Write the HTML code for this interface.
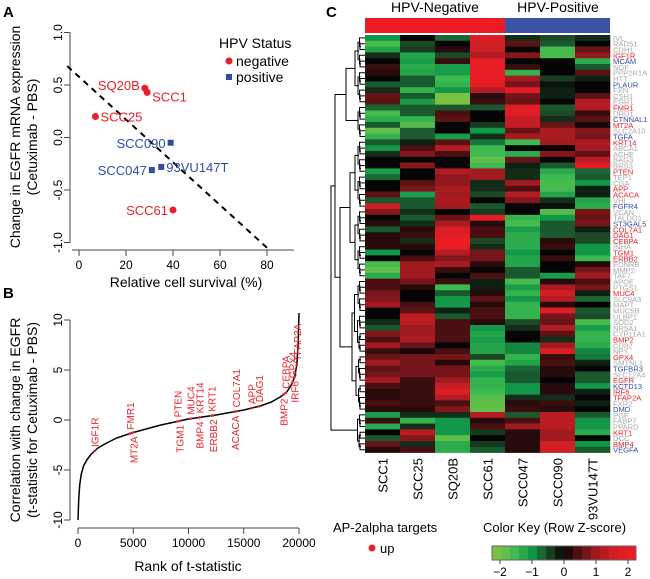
<!DOCTYPE html>
<html><head><meta charset="utf-8"><style>
body{margin:0;background:#fff}
svg{display:block;font-family:"Liberation Sans",sans-serif}
</style></head><body>
<svg id="fig" width="650" height="579" viewBox="0 0 650 579" xmlns="http://www.w3.org/2000/svg">
<g id="pa"></g>
<g id="pb"></g>
<g id="pc"></g>
</svg>
<script>
// ---------- Panel A data ----------
const aNames = ["SQ20B","SCC1","SCC25","SCC090","SCC047","93VU147T","SCC61"];
const aSurvival = [28,29,7,39,31,35,40];
const aChange = [0.47,0.43,0.2,-0.05,-0.31,-0.28,-0.69];
const aHpv = ["neg","neg","neg","pos","pos","pos","neg"];
const aXTicks = [0,20,40,60,80];
const aYTicks = [-1.0,-0.5,0.0,0.5,1.0];
const aFit = [[-5,0.68],[80,-1.05]];
// ---------- Panel B data ----------
const bRanks = [0,60,150,300,500,800,1200,1800,2600,3500,5000,7500,10000,12500,15000,16500,17500,18300,18900,19300,19600,19800,19920,20000];
const bTvals = [-10,-8,-6.5,-5.4,-4.6,-4,-3.4,-2.8,-2.3,-1.8,-1.25,-0.5,0.1,0.5,1.0,1.4,1.8,2.3,2.8,3.5,4.3,5.5,7.5,10.7];
const bGenes = ["IGF1R","FMR1","MT2A","PTEN","TGM1","MUC4","BMP4","KRT14","ERBB2","KRT1","ACACA","COL7A1","APP","DAG1","BMP2","CEBPA","GPX4","IRF6","TFAP2A"];
const bGeneRank = [1500,4700,5000,9000,9200,10200,11000,11000,12200,12100,14200,14300,15700,16400,18600,18800,19400,19600,19800];
const bGeneSide = ["u","u","d","u","d","u","d","u","d","u","d","u","u","u","d","u","u","d","u"];
const bXTicks = [0,5000,10000,15000,20000];
const bYTicks = [-10,-5,0,5,10];
// ---------- Panel C data ----------
const cSamples = ["SCC1","SCC25","SQ20B","SCC61","SCC047","SCC090","93VU147T"];
const cGenes = ["IVL","RAD51","CDH1","IGF1R","MCAM","NGF","PPP2R1A","HTT","PLAUR","FXN","CSH1","EGR1","FMR1","DRD1","CTNNAL1","MT2A","SLC2A10","TGFA","KRT14","ABCA1","ACHE","BAG3","BRS3","PTEN","TEP1","CGA","APP","ACACA","VHL","FGFR4","VCAN","TALDO1","ST3GAL5","COL7A1","DAG1","CEBPA","INHA","TGM1","ERBB2","EDNRB","MMP2","TAF7","APOE","PTGS1","MUC4","SLC9A3","MAPT","MUC5B","ULBP1","SOD2","NR5A1","CYP11A1","BMP2","CD82","NPY","GPX4","SMTNL1","TGFBR3","SLC12A4","EGFR","KCTD13","IRF6","TFAP2A","FXR2","DMD","PGF","FABP7","PPARD","KRT1","DCC","BMP4","VEGFA"];
const cRedGenes = ["IGF1R","FMR1","MT2A","KRT14","PTEN","APP","ACACA","COL7A1","DAG1","CEBPA","TGM1","ERBB2","MUC4","BMP2","GPX4","EGFR","IRF6","TFAP2A","KRT1","BMP4"];
const cBlueGenes = ["MCAM","PLAUR","CTNNAL1","TGFA","FGFR4","ST3GAL5","TGFBR3","KCTD13","DMD","VEGFA"];
const cZ = [
[-1,0,-0.7,1.8,-0.3,-0.5,-0.3],[-1.6,-0.5,0,1.5,0.5,-0.6,0],[-1.2,-0.4,0.2,1.5,0,-1.6,0.6],[-0.3,-1.2,-0.5,1.2,0.8,-1.6,0.9],
[0,-1.1,0.3,1.9,0,0,-1.3],[0.3,-1.3,-1.1,1.9,0.3,0,-0.6],[0.2,-1.2,-1.1,1.9,-1.4,0,0.5],[0,-0.6,-1.5,1.9,1,-0.4,-0.2],
[-0.6,-0.6,-1.4,1.9,0.7,-0.1,0],[-0.3,-1.4,-1,1.2,1.8,-0.2,0],[0.6,-0.6,-2,0.2,0.7,-0.2,0.5],[0.5,-1.1,-2,0.3,0.6,0,1.2],
[-0.7,-0.6,-0.6,-0.6,1.8,-0.6,1.2],[-1.6,-0.6,0.4,0,1.8,-0.5,0.3],[-1.3,-1.4,0.5,0,1.4,-0.3,0.5],[-0.6,-1.7,0,-0.4,1.4,0.6,0.1],
[-1.8,-0.6,0,-1,0.6,1.1,0.8],[-1.4,-0.6,-1.1,-0.3,1.1,1.1,0.7],[-0.6,-0.2,0.5,-0.8,-1.5,1,1.1],[-1,0.4,1.2,-1.5,0,0,1],
[-0.3,0.8,0.4,-1.5,-1.3,0.8,0.5],[0,0,0,-1.8,0.6,0,1.3],[0,0.8,0,-1.5,-0.2,-0.6,1.8],[-1.1,0,1.2,1,-0.3,-1.3,-0.7],
[-0.7,0,0.9,1,-0.3,-1.5,-0.6],[0,0.5,0.9,-0.3,1,-1.6,-1],[0,0.7,1.1,-0.3,0.4,-1.6,-0.2],[0.5,-1.1,1,-0.5,1.2,-1.2,-0.2],
[-0.6,-0.6,1.1,0,0.8,-0.3,-1.2],[1.5,-0.6,1,-0.6,0,-0.1,-1.3],[0.8,-0.3,0,-0.4,0,-1.7,0.7],[0,-0.6,0.6,1.9,-1.4,-1,0.6],
[0.2,-0.3,1.1,0.2,-1.6,-0.6,0.7],[-0.6,0.2,1.7,0.4,-1.1,-0.6,-0.2],[0.2,0.3,1.8,0.4,-1.3,-0.6,-0.5],[0.2,-0.3,2,-0.5,-1.3,0.2,-0.5],
[0.2,0.2,1.9,-0.3,-1.3,0.3,-1],[-1,0,1.2,0.7,-1,0,-1],[0,0.4,0.8,0.7,-1.2,0.3,-1.5],[-1.6,1,1.1,0.2,-1.2,0,0.2],
[-1.8,1,0.3,0,-0.6,0,0.7],[-1.3,1,0,0.4,-0.6,-1.1,1],[0.4,0.7,0.3,-0.2,-1.6,0.2,0.4],[0.4,0.2,-1.5,-0.2,-1.1,1.1,0.7],
[0.7,0,-0.6,0.2,-1.4,1.6,-0.2],[0.8,0,-1,0.5,-1,1.2,-0.7],[1,0.4,-1,0.2,-1.4,0.2,0],[0,0.5,-0.2,0.4,-1.4,1.8,-0.6],
[0,1.3,-0.6,0.4,-1.4,0.7,-0.5],[-0.3,1.3,0.4,0.2,-0.5,0.6,-1.6],[-0.6,1,0.4,-1,-0.3,1.2,-1.1],[0.8,1,0.4,-1.2,0,0.5,-1.4],
[0.4,1.1,0.4,-1.1,0,-0.3,-1.4],[1,0.6,0,-1.2,-0.9,1,-1.3],[0.3,0.1,0.4,-1.2,-0.9,1.7,-0.9],[0.6,0.7,0.7,-0.5,-1.4,0.3,-0.8],
[1,0.7,0.2,-1.6,-1.2,0.4,-0.2],[0.5,0.7,0.7,-1.3,-0.7,0.2,0],[0.7,0.7,0.7,-1.1,-0.6,0.2,-0.6],[1,0.3,1,-1.4,-0.6,0,-0.6],
[0.4,0.3,1.4,-1.4,-1,0.2,-1],[0.2,0.3,1.8,-1.5,-1,0.2,-0.2],[0.2,0.3,1.2,-1.7,-0.3,-0.3,0],[0.4,0.3,0.4,-1.8,0.2,0.3,-0.2],
[0.2,0.2,0.8,-1.8,0.3,0.2,0],[-1.1,-0.3,-0.3,1.2,-0.6,1.3,-0.6],[0.3,-1.4,-1,0.2,0.4,1.3,-1],[-1.3,-0.3,-1,0.4,1,1.3,-1],
[0,1.3,-1,-0.4,0.2,1,-1.3],[-0.6,0.8,-1.8,0,0.2,1,0],[0.6,-0.3,-1.3,-0.4,0.2,1.6,-1],[0.2,0.4,-1.3,-0.6,0.2,1.6,-0.6]
];
const keyTicks = [-2,-1,0,1,2];

const NS="http://www.w3.org/2000/svg";
function mk(parent,tag,attrs,text){const e=document.createElementNS(NS,tag);for(const k in attrs)e.setAttribute(k,attrs[k]);if(text!==undefined)e.textContent=text;parent.appendChild(e);return e;}

// ===== Panel A =====
(function(){
const g=document.getElementById('pa');
const x=v=>79+v*(267-79)/80, y=v=>137.5-v*(105);
let t=mk(g,'text',{x:3,y:17,'font-size':15,'font-weight':'bold'},'A');

let ax=mk(g,'line',{x1:70,y1:y(1),x2:70,y2:y(-1),stroke:'#444','stroke-width':1});

aYTicks.forEach(v=>{mk(g,'line',{x1:64,x2:70,y1:y(v),y2:y(v),stroke:'#444'});
 const tl=mk(g,'text',{x:0,y:0,'font-size':12,'text-anchor':'middle',transform:`translate(62,${y(v)}) rotate(-90)`},v.toFixed(1));
 });
let bx=mk(g,'line',{x1:72,y1:250,x2:294,y2:250,stroke:'#444'});

aXTicks.forEach(v=>{mk(g,'line',{x1:x(v),x2:x(v),y1:250,y2:256,stroke:'#444'});
 const tl=mk(g,'text',{x:x(v),y:269,'font-size':12,'text-anchor':'middle'},String(v));
 });
let xl=mk(g,'text',{x:186,y:287,'font-size':14,'text-anchor':'middle'},'Relative cell survival (%)');

let y1=mk(g,'text',{x:0,y:0,'font-size':14,'text-anchor':'middle',transform:'translate(20,137) rotate(-90)'},'Change in EGFR mRNA expression');

let y2=mk(g,'text',{x:0,y:0,'font-size':14,'text-anchor':'middle',transform:'translate(37,137) rotate(-90)'},'(Cetuximab - PBS)');

let fl=mk(g,'line',{x1:x(aFit[0][0]),y1:y(aFit[0][1]),x2:x(aFit[1][0]),y2:y(aFit[1][1]),stroke:'#000','stroke-width':2,'stroke-dasharray':'6,5'});

const labelPos={"SQ20B":"l","SCC1":"r","SCC25":"r","SCC090":"l","SCC047":"l","93VU147T":"r","SCC61":"l"};
aNames.forEach((n,i)=>{const px=x(aSurvival[i]),py=y(aChange[i]);const col=aHpv[i]==='neg'?'#e8202a':'#2f4ea0';
 let m;
 if(aHpv[i]==='neg')m=mk(g,'circle',{cx:px,cy:py,r:3.5,fill:col});else m=mk(g,'rect',{x:px-3,y:py-3,width:6,height:6,fill:col});
 
 const side=labelPos[n];let dy=5;if(n==='SCC1')dy=9;if(n==='SQ20B')dy=2;
 const tl=mk(g,'text',{x:side==='l'?px-5:px+5,y:py+dy,'font-size':13,fill:col,'text-anchor':side==='l'?'end':'start'},n);
 });
let lt=mk(g,'text',{x:219,y:48,'font-size':14},'HPV Status');
let c=mk(g,'circle',{cx:229,cy:61,r:3.5,fill:'#e8202a'});
let l1=mk(g,'text',{x:236,y:66,'font-size':14},'negative');
let r=mk(g,'rect',{x:226,y:74,width:6,height:6,fill:'#2f4ea0'});
let l2=mk(g,'text',{x:236,y:82,'font-size':14},'positive');
})();

// ===== Panel B =====
(function(){
const g=document.getElementById('pb');
const x=v=>78+v*(299-78)/20000, y=v=>420-v*10;
let t=mk(g,'text',{x:3,y:298,'font-size':15,'font-weight':'bold'},'B');

let ax=mk(g,'line',{x1:70,y1:y(10),x2:70,y2:y(-10),stroke:'#444'});
bYTicks.forEach(v=>{mk(g,'line',{x1:64,x2:70,y1:y(v),y2:y(v),stroke:'#444'});
 const tl=mk(g,'text',{x:0,y:0,'font-size':12,'text-anchor':'middle',transform:`translate(62,${y(v)}) rotate(-90)`},String(v));
 });
let bx=mk(g,'line',{x1:x(0),y1:528,x2:x(20000),y2:528,stroke:'#444'});
bXTicks.forEach(v=>{mk(g,'line',{x1:x(v),x2:x(v),y1:528,y2:534,stroke:'#444'});
 const tl=mk(g,'text',{x:x(v),y:547,'font-size':12,'text-anchor':'middle'},String(v));
 });
let xl=mk(g,'text',{x:188,y:571,'font-size':14,'text-anchor':'middle'},'Rank of t-statistic');
let y1=mk(g,'text',{x:0,y:0,'font-size':14,'text-anchor':'middle',transform:'translate(20,420) rotate(-90)'},'Correlation with change in EGFR');

let y2=mk(g,'text',{x:0,y:0,'font-size':14,'text-anchor':'middle',transform:'translate(37,420) rotate(-90)'},'(t-statistic for Cetuximab - PBS)');

let d='';bRanks.forEach((rk,i)=>{d+=(i?'L':'M')+x(rk).toFixed(1)+','+y(bTvals[i]).toFixed(1);});
let cv=mk(g,'path',{d:d,fill:'none',stroke:'#000','stroke-width':1.5,'stroke-linejoin':'round'});

function tAt(rk){for(let i=1;i<bRanks.length;i++){if(rk<=bRanks[i]){const f=(rk-bRanks[i-1])/(bRanks[i]-bRanks[i-1]);return bTvals[i-1]+f*(bTvals[i]-bTvals[i-1]);}}return bTvals[bTvals.length-1];}
bGenes.forEach((gn,i)=>{const px=x(bGeneRank[i]),py=y(tAt(bGeneRank[i]));
 const m=mk(g,'circle',{cx:px,cy:py,r:1.3,fill:'#e8202a'});
 const up=bGeneSide[i]==='u';
 const tl=mk(g,'text',{x:0,y:0,'font-size':10,fill:'#e8202a','text-anchor':up?'start':'end',transform:`translate(${px+4},${up?py-4:py+4}) rotate(-90)`},gn);
 });
})();

// ===== Panel C =====
(function(){
const g=document.getElementById('pc');
const X0=365,W=35,Y0=35,H=5.8;
function col(z){z=Math.max(-2,Math.min(2,z));
 const stops=[[-2,[122,193,67]],[-1.5,[60,185,80]],[-1,[18,150,72]],[-0.5,[28,72,38]],[0,[5,5,5]],[0.5,[90,18,20]],[1,[160,26,32]],[1.5,[205,30,36]],[2,[237,28,36]]];
 for(let i=1;i<stops.length;i++){if(z<=stops[i][0]){const f=(z-stops[i-1][0])/0.5;const a=stops[i-1][1],b=stops[i][1];return `rgb(${a.map((v,k)=>Math.round(v+f*(b[k]-v))).join(',')})`;}}}
let t=mk(g,'text',{x:326,y:17,'font-size':15,'font-weight':'bold'},'C');

let h1=mk(g,'text',{x:435,y:12,'font-size':14,'text-anchor':'middle'},'HPV-Negative');
let h2=mk(g,'text',{x:558,y:12,'font-size':14,'text-anchor':'middle'},'HPV-Positive');
let b1=mk(g,'rect',{x:X0,y:18,width:4*W,height:15,fill:'#ed1c24'});
let b2=mk(g,'rect',{x:X0+4*W,y:18,width:3*W,height:15,fill:'#3a53a4'});
cZ.forEach((row,ri)=>row.forEach((z,ci)=>{const c=mk(g,'rect',{x:X0+ci*W,y:Y0+ri*H,width:W+0.3,height:H+0.3,fill:col(z)});
 }));
cGenes.forEach((gn,ri)=>{const fill=cRedGenes.includes(gn)?'#e8202a':(cBlueGenes.includes(gn)?'#2f4ea0':'#a8a8a8');
 const tl=mk(g,'text',{x:613,y:Y0+ri*H+H/2+3,'font-size':7.6,fill:fill},gn);
 });
cSamples.forEach((s,ci)=>{const tl=mk(g,'text',{x:0,y:0,'font-size':13,'text-anchor':'end',transform:`translate(${X0+ci*W+W/2+5},458) rotate(-90)`},s);
 });
const dg=mk(g,'g',{stroke:'#000','stroke-width':1,fill:'none'});

function tree(a,b,depth){
 if(b-a<=1){return Y0+a*H+H/2;}
 const m=Math.floor((a+b)/2);
 const xc=365-Math.min(34,4+(b-a)*0.5);
 const y1=tree(a,m,depth+1),y2=tree(m,b,depth+1);
 const xa=365-Math.min(33,3+(m-a)*0.5), xb=365-Math.min(33,3+(b-m)*0.5);
 mk(dg,'path',{d:`M${m-a<=1?365:xa},${y1}H${xc}V${y2}H${b-m<=1?365:xb}`});
 return (y1+y2)/2;}
const groups=[[0,12],[12,18],[18,30],[30,42],[42,55],[55,65],[65,72]];
const mids=groups.map(gp=>tree(gp[0],gp[1],0));
const gx=groups.map(gp=>365-Math.min(34,4+(gp[1]-gp[0])*0.5));
mk(dg,'path',{d:`M${gx[0]},${mids[0]}H346V${mids[1]}H${gx[1]}`});
mk(dg,'path',{d:`M${gx[2]},${mids[2]}H350V${mids[3]}H${gx[3]}`});
mk(dg,'path',{d:`M${gx[4]},${mids[4]}H352V${mids[5]}H${gx[5]}`});
const m23=(mids[2]+mids[3])/2,m45=(mids[4]+mids[5])/2,m01=(mids[0]+mids[1])/2;
mk(dg,'path',{d:`M350,${m23}H340V${m45}H352`});
const mB=(m23+m45)/2;
mk(dg,'path',{d:`M346,${m01}H335V${mB}H340`});
const mA=(m01+mB)/2;
mk(dg,'path',{d:`M335,${mA}H331V${mids[6]}H${gx[6]}`});
let at=mk(g,'text',{x:333,y:532,'font-size':13},'AP-2alpha targets');
let ad=mk(g,'circle',{cx:372,cy:548,r:3.5,fill:'#e8202a'});
let au=mk(g,'text',{x:380,y:553,'font-size':13},'up');
let kt=mk(g,'text',{x:483,y:532,'font-size':13},'Color Key (Row Z-score)');
const kx=v=>564+v*32;
for(let i=0;i<16;i++){const z0=-2.25+i*0.28125;const r=mk(g,'rect',{x:kx(z0),y:546,width:9.3,height:14,fill:col(z0+0.14)});
 }
mk(g,'rect',{x:kx(-2.25),y:546,width:kx(2.25)-kx(-2.25),height:14,fill:'none',stroke:'#666'});
keyTicks.forEach(v=>{mk(g,'line',{x1:kx(v),x2:kx(v),y1:560,y2:564,stroke:'#444'});
 const tl=mk(g,'text',{x:kx(v),y:576,'font-size':12,'text-anchor':'middle'},v<0?'\u2212'+(-v):String(v));
 });
})();
</script>
</body></html>
